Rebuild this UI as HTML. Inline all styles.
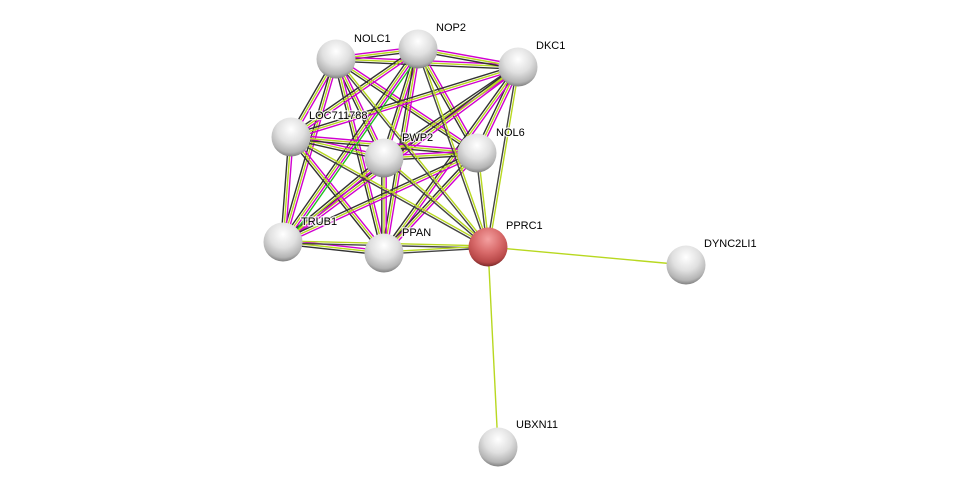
<!DOCTYPE html>
<html><head><meta charset="utf-8"><style>
html,body{margin:0;padding:0;background:#fff;}
svg{display:block;}
text{font-family:"Liberation Sans",sans-serif;font-size:11px;fill:#000;stroke:#fff;stroke-width:2.5px;stroke-opacity:0.8;paint-order:stroke;}
</style></head><body>
<svg id="s" width="976" height="491" xmlns="http://www.w3.org/2000/svg">
<defs>
<radialGradient id="g" cx="50%" cy="30%" r="70%">
<stop offset="0" stop-color="#ffffff"/><stop offset="0.5" stop-color="#e0e0e0"/><stop offset="0.85" stop-color="#b4b4b4"/><stop offset="1" stop-color="#808080"/></radialGradient>
<radialGradient id="r" cx="50%" cy="30%" r="70%">
<stop offset="0" stop-color="#f4a0a0"/><stop offset="0.5" stop-color="#d86a6a"/><stop offset="0.85" stop-color="#b84848"/><stop offset="1" stop-color="#7a2a2a"/></radialGradient>
</defs>
<g id="edges"></g>
<g id="nodes"></g>
<text x="354" y="42">NOLC1</text>
<text x="436" y="31">NOP2</text>
<text x="536" y="49">DKC1</text>
<text x="309" y="119">LOC711788</text>
<text x="402" y="141">PWP2</text>
<text x="496" y="136">NOL6</text>
<text x="301" y="225">TRUB1</text>
<text x="402" y="236">PPAN</text>
<text x="506" y="229">PPRC1</text>
<text x="704" y="247">DYNC2LI1</text>
<text x="516" y="428">UBXN11</text>
</svg>
<script>
var N={NOLC1:[336,59],NOP2:[418,49],DKC1:[518,67],LOC:[291,137],PWP2:[384,158],NOL6:[477,153],TRUB1:[283,242],PPAN:[384,253],PPRC1:[488,247],DYN:[686,265],UBX:[498,447]};
var cl=["NOLC1","NOP2","DKC1","LOC","PWP2","NOL6","TRUB1","PPAN"];
var E=document.getElementById("edges"),NS="http://www.w3.org/2000/svg";
function line(a,b,off,col){var A=N[a],B=N[b],dx=B[0]-A[0],dy=B[1]-A[1],l=Math.hypot(dx,dy),px=-dy/l*off,py=dx/l*off;
var e=document.createElementNS(NS,"line");e.setAttribute("x1",A[0]+px);e.setAttribute("y1",A[1]+py);e.setAttribute("x2",B[0]+px);e.setAttribute("y2",B[1]+py);e.setAttribute("stroke",col);e.setAttribute("stroke-width","1.4");E.appendChild(e);}
for(var i=0;i<cl.length;i++)for(var j=i+1;j<cl.length;j++){var a=cl[i],b=cl[j];
line(a,b,-2.2,"#d000d0");line(a,b,0,"#b8d820");line(a,b,2.2,"#333");}
line("NOP2","TRUB1",-4.4,"#20c020");
cl.forEach(function(c){line(c,"PPRC1",-1.1,"#b8d820");line(c,"PPRC1",1.1,"#444");});
line("PPRC1","DYN",0,"#b8d820");line("PPRC1","UBX",0,"#b8d820");
var G=document.getElementById("nodes");
for(var k in N){var c=document.createElementNS(NS,"circle");c.setAttribute("cx",N[k][0]);c.setAttribute("cy",N[k][1]);c.setAttribute("r",19.5);c.setAttribute("fill",k=="PPRC1"?"url(#r)":"url(#g)");G.appendChild(c);}
</script>
</body></html>
